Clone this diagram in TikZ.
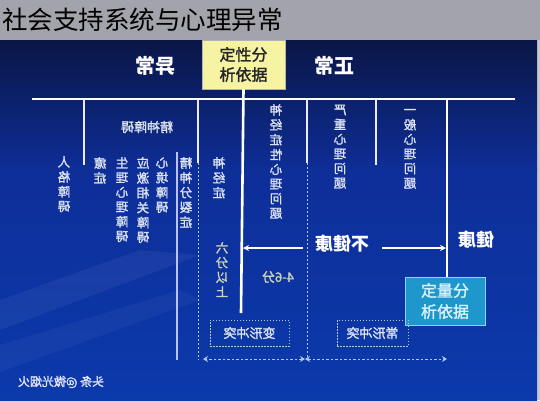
\documentclass[tikz,border=0pt]{standalone}
\usepackage{fontspec}
\setmainfont{Noto Sans CJK SC}
\newfontfamily\cjkfb[FakeBold=1.6]{Noto Sans CJK SC}
\usetikzlibrary{arrows.meta}
\definecolor{navyA}{HTML}{0A1646}
\definecolor{navyB}{HTML}{0E2E98}
\definecolor{navyC}{HTML}{0B3AAC}
\definecolor{titlegray}{HTML}{A3A3AB}
\definecolor{lbl}{HTML}{DCE3F4}
\definecolor{ylw}{HTML}{F6F3A2}
\definecolor{cyanbox}{HTML}{1E97CC}
\definecolor{cyanedge}{HTML}{8FD2EE}
\definecolor{dashc}{HTML}{B4C6EC}
\definecolor{sixc}{HTML}{CDD3B8}
\newcommand{\vcol}[1]{\reflectbox{\begin{tabular}{@{}c@{}}#1\end{tabular}}}
\tikzset{
  vlabel/.style={text=lbl, font=\cjkfb\fontsize{12.5}{14.6}\selectfont, inner sep=0pt, anchor=north},
  biglabel/.style={text=white, font=\fontsize{20}{23}\selectfont\bfseries, inner sep=0pt},
  midlabel/.style={text=white, font=\fontsize{18}{21}\selectfont\bfseries, inner sep=0pt},
  wthick/.style={draw=white, line width=2.6pt},
  wline/.style={draw=white!92!blue, line width=2pt},
  wthin/.style={draw=lbl!85!blue, line width=1.1pt},
  wdash/.style={draw=dashc, line width=1pt, dash pattern=on 2pt off 2pt},
  warrow/.style={draw=white, line width=1.4pt, -{Stealth[length=6pt,width=6pt]}},
  darrow/.style={draw=dashc, line width=1pt, dash pattern=on 2.5pt off 2pt, {Stealth[length=5pt,width=6pt]}-{Stealth[length=5pt,width=6pt]}},
  conflict/.style={draw=dashc, line width=1pt, dash pattern=on 1.5pt off 1.5pt, text=lbl,
     font=\cjkfb\fontsize{13}{15}\selectfont, minimum width=79pt, minimum height=26pt, inner sep=0pt},
}
\begin{document}
\begin{tikzpicture}[x=1pt,y=-1pt]
\useasboundingbox (0,0) rectangle (540,400);
% backgrounds
\fill[titlegray] (0,0) rectangle (540,40);
\fill[titlegray!60!white] (537,40) rectangle (540,400);
\shade[top color=navyA, bottom color=navyB] (0,40) rectangle (537,170);
\shade[top color=navyB, bottom color=navyC] (0,169.5) rectangle (537,400);
\fill[white, opacity=0.05] (0,300) -- (140,250) -- (200,255) -- (0,330) -- cycle;
\fill[white, opacity=0.04] (0,345) -- (180,290) -- (200,300) -- (0,372) -- cycle;
% title
\node[anchor=west, inner sep=0pt, text=black, font=\fontsize{25.5}{28}\selectfont] (title) at (2,20) {社会支持系统与心理异常};
% top labels
\node[biglabel] (abn) at (155,66) {\reflectbox{异常}};
\node[biglabel] (nor) at (334,66) {\reflectbox{正常}};
\node[fill=ylw, draw=gray!60, line width=0.4pt, minimum width=83pt, minimum height=49pt, inner sep=0pt,
      align=center, text=black!85, font=\cjkfb\fontsize{16}{20}\selectfont] (qual) at (243.5,64.5) {定性分\\析依据};
% coordinates
\coordinate (hl) at (32,99);
\coordinate (hr) at (515,99);
\coordinate (a1) at (84,99);   \coordinate (a2) at (84,165);
\coordinate (b1) at (198,99);  \coordinate (b2) at (198,163); \coordinate (b3) at (198,360);
\coordinate (c1) at (177,152); \coordinate (c2) at (177,360);
\coordinate (m1) at (241,313);
\coordinate (d1) at (307,99);  \coordinate (d2) at (307,163); \coordinate (d3) at (307,358);
\coordinate (e1) at (376,99);  \coordinate (e2) at (376,165);
\coordinate (f1) at (447,99);
\coordinate (g1) at (303,248); \coordinate (g2) at (243,248);
\coordinate (h1) at (382,248); \coordinate (h2) at (446,248);
\coordinate (k1) at (203,359); \coordinate (k2) at (305,359); \coordinate (k3) at (447,359);
% quantitative box
\node[fill=cyanbox, draw=cyanedge, line width=0.8pt, minimum width=80pt, minimum height=48pt, inner sep=0pt,
      align=center, text=white!85!cyan, font=\cjkfb\fontsize{16}{21}\selectfont] (quant) at (445,301) {定量分\\析依据};
% lines
\draw[wthick] (hl) -- (hr);
\draw[wthick] (qual.south) -- (m1);
\draw[wthick] (f1) -- (quant.north -| f1);
\draw[wline] (a1) -- (a2);
\draw[wline] (b1) -- (b2);
\draw[wdash] (b2) -- (b3);
\draw[wthin] (c1) -- (c2);
\draw[wline] (d1) -- (d2);
\draw[wdash] (d2) -- (d3);
\draw[wline] (e1) -- (e2);
% arrows
\draw[warrow] (g1) -- (g2);
\draw[warrow] (h1) -- (h2);
\draw[darrow] (k2) -- (k1);
\draw[darrow] (k2) -- (k3);
% column labels
\node[vlabel] (renge) at (64,156) {\vcol{人\\格\\障\\碍}};
\node[text=lbl, font=\cjkfb\fontsize{13}{15}\selectfont, inner sep=0pt] (jsza) at (147,127) {\reflectbox{精神障碍}};
\node[vlabel] (yizh) at (100,157) {\vcol{癔\\症}};
\node[vlabel] (shengli) at (122,157) {\vcol{生\\理\\心\\理\\障\\碍}};
\node[vlabel] (yingji) at (143,157) {\vcol{应\\激\\相\\关\\障\\碍}};
\node[vlabel] (xinjing) at (162,157) {\vcol{心\\境\\障\\碍}};
\node[vlabel] (jingfen) at (186,157) {\vcol{精\\神\\分\\裂\\症}};
\node[vlabel] (shenjing) at (219,157) {\vcol{神\\经\\症}};
\node[vlabel] (sjx) at (276,104) {\vcol{神\\经\\症\\性\\心\\理\\问\\题}};
\node[vlabel] (yanzhong) at (340,104) {\vcol{严\\重\\心\\理\\问\\题}};
\node[vlabel] (yiban) at (410,104) {\vcol{一\\般\\心\\理\\问\\题}};
\node[vlabel, text=sixc] (liufen) at (222,242) {\vcol{六\\分\\以\\上}};
\node[text=sixc, font=\cjkfb\fontsize{13}{15}\selectfont, inner sep=0pt] (sifen) at (278,277) {\reflectbox{4-6分}};
% health labels
\node[midlabel] (bujk) at (342,244) {\reflectbox{不健康}};
\node[midlabel] (jk) at (476,240) {\reflectbox{健康}};
% conflict boxes
\node[conflict] (bx) at (249.5,333) {\reflectbox{变形冲突}};
\node[conflict, minimum width=71pt] (cx) at (372.5,333) {\reflectbox{常形冲突}};
% watermark
\node[text=white!90!blue, font=\cjkfb\fontsize{12}{14}\selectfont, inner sep=0pt] (wm) at (61,382) {\reflectbox{头条 @微光烟火}};
\end{tikzpicture}
\end{document}
